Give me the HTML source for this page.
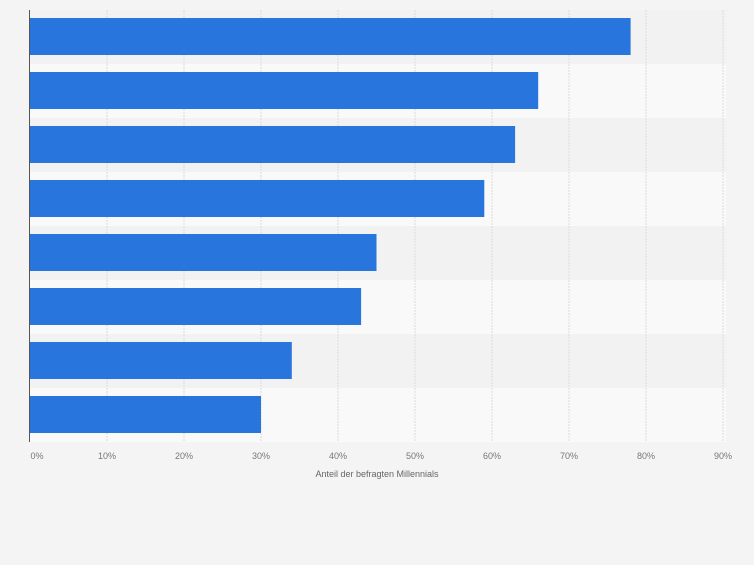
<!DOCTYPE html><html><head><meta charset="utf-8"><style>body{margin:0;background:#f4f4f4;font-family:"Liberation Sans",sans-serif}</style></head><body>
<svg id="c" width="754" height="560" xmlns="http://www.w3.org/2000/svg"></svg>
<script>
const categories=["A","B","C","D","E","F","G","H"];
const values=[78,66,63,59,45,43,34,30];
const ticks=[0,10,20,30,40,50,60,70,80,90];
const svg=document.getElementById('c');const NS="http://www.w3.org/2000/svg";
const x0=30,pxPer=7.7,y0=10,band=54;
const X=v=>x0+v*pxPer;
function mk(t,a,p){const e=document.createElementNS(NS,t);for(const k in a)e.setAttribute(k,a[k]);(p||svg).appendChild(e);return e;}
categories.forEach((c,i)=>{const r=mk('rect',{x:x0,y:y0+i*band,width:696,height:band,fill:i%2?'#f9f9f9':'#f2f2f2'});

});
ticks.forEach(t=>{if(t===0)return;const l=mk('line',{x1:X(t),x2:X(t),y1:y0,y2:442,stroke:'#dcdcdc','stroke-dasharray':'2,1'});

});
values.forEach((v,i)=>{const b=mk('rect',{x:x0,y:y0+i*band+8,width:X(v)-x0,height:37,fill:'#2876dd'});

});
const ax=mk('line',{x1:29.5,x2:29.5,y1:y0,y2:442,stroke:'#555','stroke-width':1});


ticks.forEach(t=>{const tx=mk('text',{x:X(t)+(t===0?7:0),y:459,'text-anchor':'middle','font-size':9,fill:'#777'});tx.textContent=t+'%';

});
const tt=mk('text',{x:377,y:477,'text-anchor':'middle','font-size':9,fill:'#666'});tt.textContent='Anteil der befragten Millennials';


</script></body></html>
